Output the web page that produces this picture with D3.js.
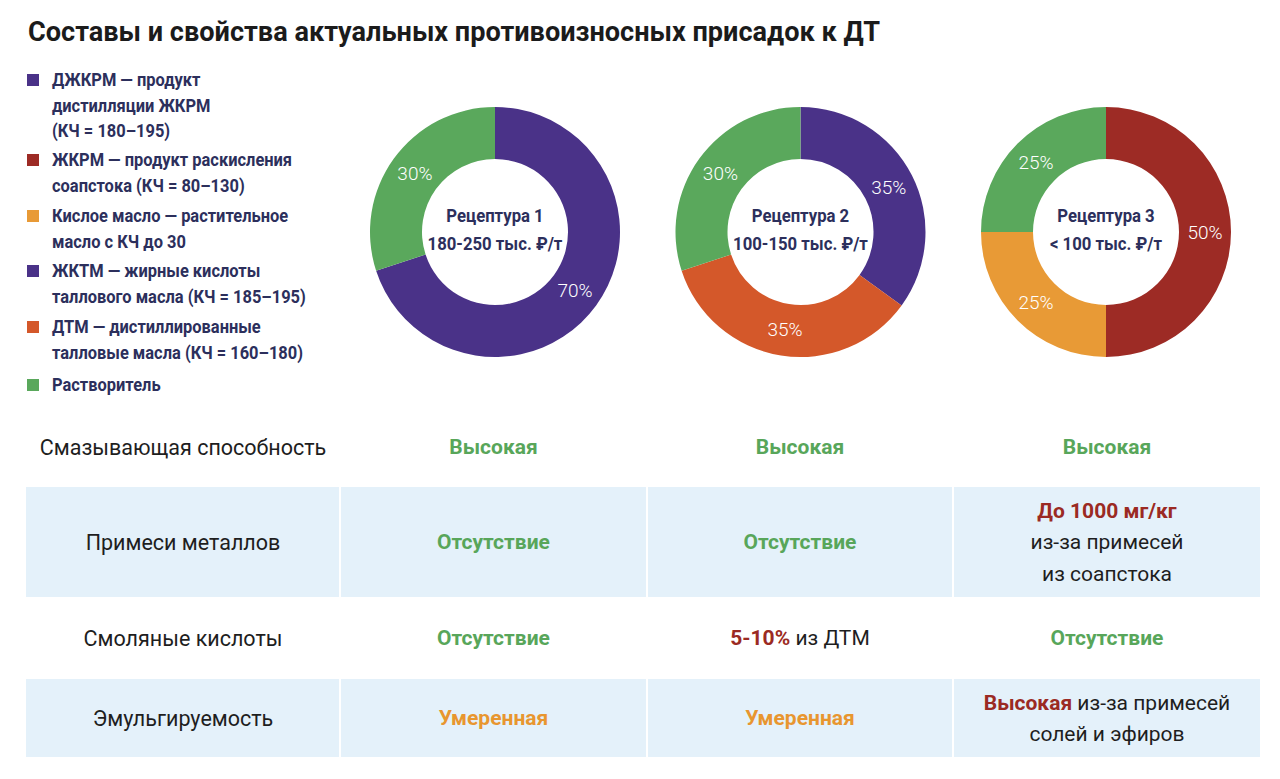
<!DOCTYPE html>
<html lang="ru">
<head>
<meta charset="UTF-8">
<title>Составы и свойства противоизносных присадок</title>
<script src="https://d3js.org/d3.v7.min.js"></script>
<style>
  body { margin: 0; background: #fff; }
  svg { display: block; font-family: Roboto, "Noto Sans", "DejaVu Sans", sans-serif; }
  .legend text { fill: #2c2f5c; font-weight: 700; font-size: 17.5px; }
  .center text { fill: #2c2f5c; font-weight: 700; font-size: 19px; }
  .pct { fill: #fff; font-size: 19px; font-weight: 300; }
  .rowlabel { fill: #1e1e1e; font-size: 21.5px; }
  .cell { font-size: 21px; fill: #1e1e1e; }
</style>
</head>
<body>
<svg width="1280" height="779"></svg>
<script>
// ---- data ----
const title = "Составы и свойства актуальных противоизносных присадок к ДТ";

const components = ["ДЖКРМ", "ЖКРМ", "Кислое масло", "ЖКТМ", "ДТМ", "Растворитель"];
const componentColors = ["#4a3288", "#9d2b25", "#e89a36", "#4a3288", "#d4582a", "#5aa85c"];
const legendLines = [
  ["ДЖКРМ — продукт", "дистилляции ЖКРМ", "(КЧ = 180–195)"],
  ["ЖКРМ — продукт раскисления", "соапстока (КЧ = 80–130)"],
  ["Кислое масло — растительное", "масло с КЧ до 30"],
  ["ЖКТМ — жирные кислоты", "таллового масла (КЧ = 185–195)"],
  ["ДТМ — дистиллированные", "талловые масла (КЧ = 160–180)"],
  ["Растворитель"]
];

const recipes = ["Рецептура 1", "Рецептура 2", "Рецептура 3"];
const prices = ["180-250 тыс. ₽/т", "100-150 тыс. ₽/т", "< 100 тыс. ₽/т"];
const recipe1 = [["ДЖКРМ", 70], ["Растворитель", 30]];
const recipe2 = [["ЖКТМ", 35], ["ДТМ", 35], ["Растворитель", 30]];
const recipe3 = [["ЖКРМ", 50], ["Кислое масло", 25], ["Растворитель", 25]];

const properties = ["Смазывающая способность", "Примеси металлов", "Смоляные кислоты", "Эмульгируемость"];
// each cell: lines of [text, tone] segments
const cells1 = [
  [[["Высокая", "good"]]],
  [[["Отсутствие", "good"]]],
  [[["Отсутствие", "good"]]],
  [[["Умеренная", "mid"]]]
];
const cells2 = [
  [[["Высокая", "good"]]],
  [[["Отсутствие", "good"]]],
  [[["5-10%", "bad"], [" из ДТМ", "plain"]]],
  [[["Умеренная", "mid"]]]
];
const cells3 = [
  [[["Высокая", "good"]]],
  [[["До 1000 мг/кг", "bad"]], [["из-за примесей", "plain"]], [["из соапстока", "plain"]]],
  [[["Отсутствие", "good"]]],
  [[["Высокая", "bad"], [" из-за примесей", "plain"]], [["солей и эфиров", "plain"]]]
];

// ---- drawing ----
const svg = d3.select("svg");
const color = d3.scaleOrdinal().domain(components).range(componentColors);
const toneColor = { good: "#58a65a", mid: "#e8962f", bad: "#9b2a23", plain: "#1e1e1e" };

svg.append("text")
  .attr("x", 28).attr("y", 41)
  .attr("font-size", 27).attr("font-weight", 700).attr("fill", "#1b1b1b")
  .attr("textLength", 852).attr("lengthAdjust", "spacingAndGlyphs")
  .text(title);

// legend (centre line of the first row of each item)
const legendTop = [80, 160, 216, 271, 327, 385];
const legend = svg.append("g").attr("class", "legend");
legendLines.forEach((lines, i) => {
  const g = legend.append("g").attr("transform", `translate(0,${legendTop[i]})`);
  g.append("rect").attr("x", 27).attr("y", -6).attr("width", 12).attr("height", 12)
    .attr("fill", color(components[i]));
  lines.forEach((l, j) => {
    g.append("text")
      .attr("transform", `translate(52,${j * 25.5}) scale(0.94,1)`)
      .attr("dy", "0.35em").text(l);
  });
});

// donuts
const pie = d3.pie().sort(null).value(d => d[1]);
const arc = d3.arc().innerRadius(73).outerRadius(125);
const labelArc = d3.arc().innerRadius(99).outerRadius(99);
const cx = d3.scalePoint().domain(recipes).range([495, 1106]);

[recipe1, recipe2, recipe3].forEach((data, i) => {
  const g = svg.append("g").attr("transform", `translate(${cx(recipes[i])},232)`);
  const arcs = pie(data);
  g.selectAll("path").data(arcs).join("path")
    .attr("d", arc).attr("fill", d => color(d.data[0]));
  g.selectAll("text.pct").data(arcs).join("text")
    .attr("class", "pct")
    .attr("transform", d => `translate(${labelArc.centroid(d)})`)
    .attr("text-anchor", "middle").attr("dy", "0.35em")
    .text(d => d.data[1] + "%");
  const c = g.append("g").attr("class", "center").attr("transform", "scale(0.88,1)");
  c.append("text").attr("text-anchor", "middle").attr("y", -10).text(recipes[i]);
  c.append("text").attr("text-anchor", "middle").attr("y", 18).text(prices[i]);
});

// table
const rowH = [80, 110, 82, 78];
const rowTop = [407];
rowH.forEach((h, i) => rowTop.push(rowTop[i] + h));
const colEdges = [26, 340, 647, 953, 1261];
const colCenter = i => (colEdges[i] + colEdges[i + 1]) / 2;
const table = svg.append("g");

properties.forEach((p, r) => {
  if (r % 2 === 1) {
    for (let c = 0; c < 4; c++) {
      table.append("rect")
        .attr("x", colEdges[c] + (c ? 1 : 0)).attr("y", rowTop[r])
        .attr("width", colEdges[c + 1] - colEdges[c] - (c ? 1 : 0) - 1)
        .attr("height", rowH[r])
        .attr("fill", "#e4f1fa");
    }
  }
  const cy = rowTop[r] + rowH[r] / 2;
  table.append("text").attr("class", "rowlabel")
    .attr("x", colCenter(0)).attr("y", cy).attr("dy", "0.35em")
    .attr("text-anchor", "middle").text(p);

  [cells1, cells2, cells3].forEach((cells, c) => {
    const lines = cells[r];
    const lh = 31.5;
    lines.forEach((segs, j) => {
      const t = table.append("text").attr("class", "cell")
        .attr("x", colCenter(c + 1))
        .attr("y", cy + (j - (lines.length - 1) / 2) * lh)
        .attr("dy", "0.35em").attr("text-anchor", "middle");
      segs.forEach(s => {
        t.append("tspan")
          .attr("fill", toneColor[s[1]])
          .attr("font-weight", s[1] === "plain" ? 400 : 700)
          .attr("xml:space", "preserve")
          .text(s[0]);
      });
    });
  });
});
</script>
</body>
</html>
